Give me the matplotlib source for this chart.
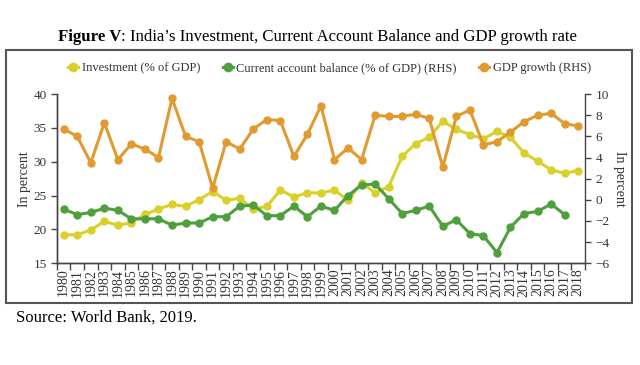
import matplotlib.pyplot as plt
from matplotlib.lines import Line2D
from matplotlib.patches import Rectangle
import numpy as np

plt.rcParams['font.family'] = ['Liberation Serif', 'DejaVu Serif']

years = list(range(1980, 2019))
investment = [19.2, 19.2, 19.9, 21.2, 20.6, 21.0, 22.2, 23.0, 23.7, 23.4,
              24.4, 25.6, 24.3, 24.6, 23.0, 23.4, 25.8, 24.8, 25.4, 25.4,
              25.8, 24.3, 26.9, 25.4, 26.3, 30.8, 32.7, 33.6, 36.0, 34.8,
              34.0, 33.4, 34.5, 33.6, 31.3, 30.1, 28.8, 28.3, 28.7]
cab = [-0.9, -1.4, -1.2, -0.8, -1.0, -1.8, -1.8, -1.8, -2.4, -2.2,
       -2.2, -1.6, -1.6, -0.6, -0.5, -1.5, -1.5, -0.6, -1.6, -0.6,
       -1.0, 0.4, 1.4, 1.5, 0.1, -1.3, -1.0, -0.6, -2.5, -1.9,
       -3.2, -3.4, -5.0, -2.6, -1.3, -1.1, -0.4, -1.4, np.nan]
gdp_growth = [6.7, 6.0, 3.5, 7.3, 3.8, 5.3, 4.8, 4.0, 9.6, 6.0,
              5.5, 1.1, 5.5, 4.8, 6.7, 7.6, 7.5, 4.1, 6.2, 8.9,
              3.8, 4.9, 3.8, 8.0, 7.9, 7.9, 8.1, 7.7, 3.1, 7.9,
              8.5, 5.2, 5.5, 6.4, 7.4, 8.0, 8.2, 7.2, 7.0]

c_inv = '#D9D02C'
c_cab = '#4FA03D'
c_gdp = '#E19A2F'

fig = plt.figure(figsize=(6.4, 3.65), dpi=100)
ax = fig.add_axes([0.089, 0.279, 0.825, 0.463])
ax2 = ax.twinx()

ax.plot(years, investment, color=c_inv, lw=2.2, marker='o', ms=5, zorder=3)
ax2.plot(years, cab, color=c_cab, lw=2.2, marker='o', ms=5)
ax2.plot(years, gdp_growth, color=c_gdp, lw=2.2, marker='o', ms=5)

ax.set_xlim(1979.5, 2018.5)
ax.set_ylim(15, 40)
ax2.set_ylim(-6, 10)
ax.set_yticks(range(15, 41, 5))
ax2.set_yticks(range(-6, 11, 2))

ax.set_xticks(years)
ax.set_xticklabels([str(y) for y in years], rotation=90, fontsize=10, color='#333333')
ax.set_xticks(np.arange(1979.5, 2019, 1), minor=True)
ax.tick_params(axis='x', which='major', length=0, pad=4)
ax.tick_params(axis='x', which='minor', length=5, width=1, color='#444444')
ax.tick_params(axis='y', length=4, width=1, color='#444444', labelsize=9.5, labelcolor='#333333')
ax2.tick_params(axis='y', length=4, width=1, color='#444444', labelsize=9.5, labelcolor='#333333')

for a in (ax, ax2):
    a.spines['top'].set_visible(False)
    for s in a.spines.values():
        s.set_color('#444444')
        s.set_linewidth(1)
ax.spines['right'].set_visible(False)

ax.set_ylabel('In percent', fontsize=10, color='#333333', labelpad=2)
ax2.set_ylabel('In percent', fontsize=10, color='#333333', rotation=-90, labelpad=12)

handles = [Line2D([], [], color=c, lw=2.2, marker='o', ms=6) for c in (c_inv, c_cab, c_gdp)]
labels = ['Investment (% of GDP)', 'Current account balance (% of GDP) (RHS)', 'GDP growth (RHS)']
fig.legend(handles, labels, loc='center', bbox_to_anchor=(0.515, 0.814), ncol=3,
           frameon=False, fontsize=9, handlelength=0.8, handletextpad=0.3, columnspacing=1.8,
           labelcolor='#333333')

fig.patches.append(Rectangle((6 / 640, 1 - 303 / 365), 626 / 640, 253 / 365,
                             transform=fig.transFigure, fill=False, edgecolor='#555555', lw=1.5))

t1 = fig.text(58 / 640, 1 - 37 / 365, 'Figure V', fontsize=12.1, fontweight='bold', va='center')
ax.annotate(': India\u2019s Investment, Current Account Balance and GDP growth rate',
            xy=(1, 0), xycoords=t1, va='bottom', fontsize=12.1, annotation_clip=False)

fig.text(16 / 640, 1 - 318 / 365, 'Source: World Bank, 2019.', fontsize=12, va='center')

plt.savefig('out.png', dpi=100)
